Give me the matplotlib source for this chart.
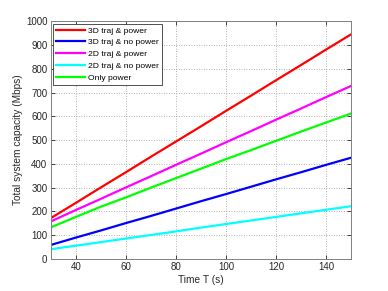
import numpy as np
import matplotlib
matplotlib.use("Agg")
import matplotlib.pyplot as plt

# Time axis (s)
time_T = [30, 40, 50, 60, 70, 80, 90, 100, 110, 120, 130, 140, 150]

# Total system capacity (Mbps)
traj3d_power = [172, 236, 301, 365, 430, 494, 558, 623, 687, 752, 816, 881, 945]
traj3d_nopower = [59, 90, 120, 151, 181, 212, 243, 273, 304, 335, 365, 396, 426]
traj2d_power = [158, 206, 253, 301, 348, 396, 443, 491, 538, 586, 633, 681, 728]
traj2d_nopower = [41, 56, 71, 86, 101, 116, 132, 147, 162, 177, 192, 207, 222]
only_power = [133, 177, 220, 259, 300, 340, 380, 420, 458, 497, 536, 574, 612]

labels = ["3D traj & power", "3D traj & no power", "2D traj & power",
          "2D traj & no power", "Only power"]
colors = ["#ff0000", "#0000ff", "#ff00ff", "#00ffff", "#00ff00"]
series = [traj3d_power, traj3d_nopower, traj2d_power, traj2d_nopower, only_power]

plt.rcParams["font.family"] = ["Liberation Sans", "DejaVu Sans"]
axis_gray = "#262626"

fig = plt.figure(figsize=(3.88, 2.91), dpi=100)
ax = fig.add_axes([0.131, 0.110, 0.774, 0.817])

for ys, lab, col in zip(series, labels, colors):
    ax.plot(time_T, ys, color=col, linewidth=1.6, label=lab)

ax.set_xlim(30, 150)
ax.set_ylim(0, 1000)
ax.set_xticks([40, 60, 80, 100, 120, 140])
ax.set_yticks(np.arange(0, 1001, 100))
ax.grid(True, linestyle=(0, (1, 2)), color="#999999", linewidth=0.6)
ax.tick_params(direction="in", length=3, width=0.6, labelsize=7, pad=2.5,
               colors=axis_gray, top=True, right=True)
for sp in ax.spines.values():
    sp.set_color("#808080")
    sp.set_linewidth(0.7)

ax.set_xlabel("Time T (s)", fontsize=7.3, color=axis_gray, labelpad=2)
ax.set_ylabel("Total system capacity (Mbps)", fontsize=7.3, color=axis_gray, labelpad=2)

leg = ax.legend(loc="upper left", fontsize=6.1, handlelength=3.4, handletextpad=0.3,
                borderaxespad=0.3, borderpad=0.35, labelspacing=0.45,
                fancybox=False, framealpha=1)
leg.get_frame().set_edgecolor("#333333")
leg.get_frame().set_linewidth(0.6)

fig.savefig("out.png", dpi=100)
